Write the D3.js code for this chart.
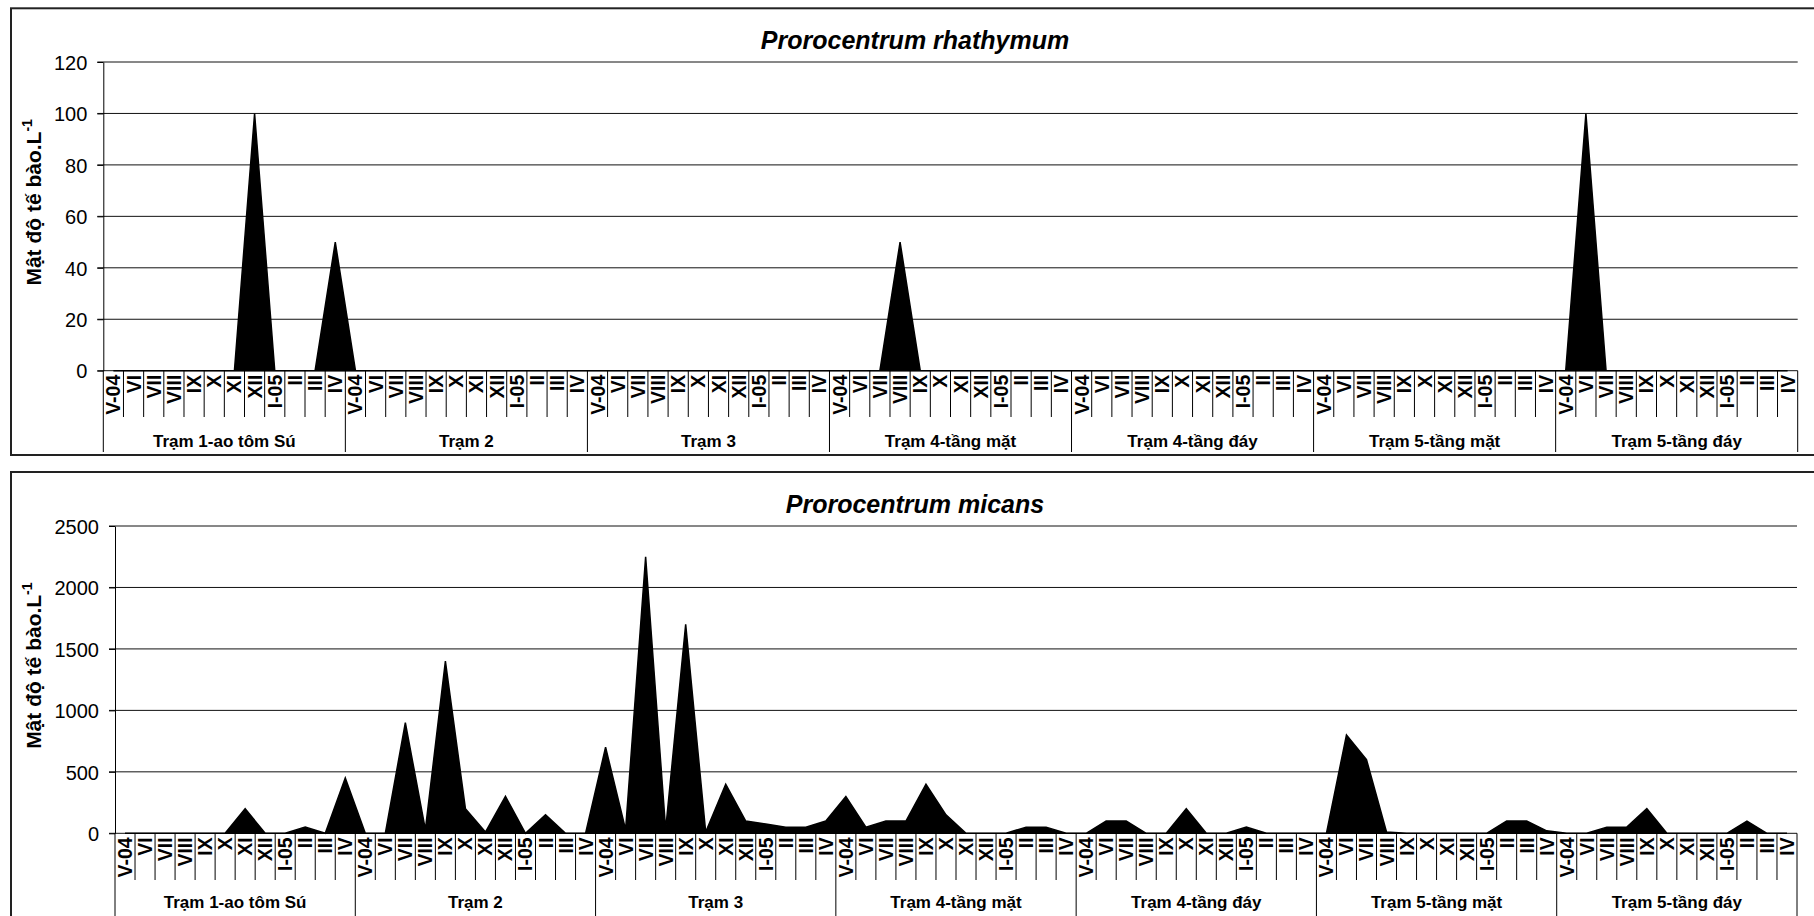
<!DOCTYPE html>
<html>
<head>
<meta charset="utf-8">
<script src="https://cdn.jsdelivr.net/npm/d3@7"></script>
<style>
body { margin: 0; background: #fff; }
svg { display: block; font-family: "Liberation Sans", Arial, sans-serif; }
</style>
</head>
<body>
<svg id="chart" width="1814" height="916"></svg>
<script>
var months = ['V-04', 'VI', 'VII', 'VIII', 'IX', 'X', 'XI', 'XII', 'I-05', 'II', 'III', 'IV'];
var stations = ['Trạm 1-ao tôm Sú', 'Trạm 2', 'Trạm 3', 'Trạm 4-tầng mặt', 'Trạm 4-tầng đáy', 'Trạm 5-tầng mặt', 'Trạm 5-tầng đáy'];

// Prorocentrum rhathymum, 12 months per station
var rhathymum = [
	0, 0, 0, 0, 0, 0, 0, 100, 0, 0, 0, 50,
	0, 0, 0, 0, 0, 0, 0, 0, 0, 0, 0, 0,
	0, 0, 0, 0, 0, 0, 0, 0, 0, 0, 0, 0,
	0, 0, 0, 50, 0, 0, 0, 0, 0, 0, 0, 0,
	0, 0, 0, 0, 0, 0, 0, 0, 0, 0, 0, 0,
	0, 0, 0, 0, 0, 0, 0, 0, 0, 0, 0, 0,
	0, 100, 0, 0, 0, 0, 0, 0, 0, 0, 0, 0
];

// Prorocentrum micans
var micans = [
	0, 0, 0, 0, 0, 0, 200, 0, 0, 50, 0, 450,
	0, 0, 900, 30, 1400, 200, 10, 300, 0, 150, 0, 0,
	700, 30, 2250, 30, 1700, 10, 400, 100, 75, 50, 50, 100,
	300, 50, 100, 100, 400, 150, 0, 0, 0, 50, 50, 0,
	0, 100, 100, 0, 0, 200, 0, 0, 50, 0, 0, 0,
	0, 800, 600, 10, 0, 0, 0, 0, 0, 100, 100, 20,
	0, 0, 50, 50, 200, 0, 0, 0, 0, 100, 0, 0
];

var ticksRhathymum = [0, 20, 40, 60, 80, 100, 120];
var ticksMicans = [0, 500, 1000, 1500, 2000, 2500];

function drawPanel(o){
	var svg = d3.select('#chart');
	var g = svg.append('g');

	g.append('rect')
		.attr('x', o.box[0]).attr('y', o.box[1])
		.attr('width', o.box[2]).attr('height', o.box[3])
		.attr('fill', '#fff').attr('stroke', '#222').attr('stroke-width', 2);

	var cats = d3.range(stations.length * months.length);
	var x = d3.scaleBand().domain(cats).range([o.left, o.right]).padding(0);
	var bw = x.bandwidth();
	var y = d3.scaleLinear().domain([0, d3.max(o.ticks)]).range([o.bottom, o.top]);

	// grid lines
	g.selectAll('line.grid').data(o.ticks).enter().append('line')
		.attr('class', 'grid')
		.attr('x1', o.left - 6).attr('x2', o.right)
		.attr('y1', function(d){ return y(d); })
		.attr('y2', function(d){ return y(d); })
		.attr('stroke', '#111').attr('stroke-width', 1);

	// filled series
	var area = d3.area()
		.x(function(d, i){ return x(i) + bw / 2; })
		.y0(y(0))
		.y1(function(d){ return y(d); });
	g.append('path').datum(o.values)
		.attr('d', area)
		.attr('fill', '#000').attr('stroke', '#000').attr('stroke-width', 1.5)
		.attr('stroke-linejoin', 'miter');

	// y axis
	var ax = g.append('g')
		.attr('transform', 'translate(' + o.left + ',0)')
		.call(d3.axisLeft(y).tickValues(o.ticks).tickSize(6).tickSizeOuter(0).tickPadding(10).tickFormat(d3.format('d')));
	ax.select('.domain').attr('stroke', '#000');
	ax.selectAll('.tick line').attr('stroke', '#000');
	ax.selectAll('.tick text').attr('fill', '#000').style('font-size', '20px').attr('dy', '0.36em');

	// category separators
	var bounds = d3.range(cats.length + 1);
	g.selectAll('line.sep').data(bounds).enter().append('line')
		.attr('class', 'sep')
		.attr('x1', function(d){ return o.left + d * bw; })
		.attr('x2', function(d){ return o.left + d * bw; })
		.attr('y1', o.bottom)
		.attr('y2', function(d){ return d % months.length == 0 ? o.groupLineBottom : o.catLineBottom; })
		.attr('stroke', '#000').attr('stroke-width', 1);

	// category labels
	g.selectAll('text.cat').data(cats).enter().append('text')
		.attr('class', 'cat')
		.attr('transform', function(d){ return 'translate(' + (x(d) + bw / 2 + 7) + ',' + (o.bottom + 4) + ') rotate(-90)'; })
		.attr('text-anchor', 'end')
		.style('font-size', '19.5px').style('font-weight', 'bold')
		.text(function(d){ return months[d % months.length]; });

	// station labels
	g.selectAll('text.grp').data(stations).enter().append('text')
		.attr('class', 'grp')
		.attr('x', function(d, i){ return o.left + (i + 0.5) * months.length * bw; })
		.attr('y', o.groupLabelY)
		.attr('text-anchor', 'middle')
		.style('font-size', '17px').style('font-weight', 'bold')
		.text(function(d){ return d; });

	// title
	g.append('text')
		.attr('x', o.box[0] + o.box[2] / 2).attr('y', o.titleY)
		.attr('text-anchor', 'middle')
		.style('font-size', '25px').style('font-weight', 'bold').style('font-style', 'italic')
		.text(o.title);

	// y axis title
	var yt = g.append('text')
		.attr('transform', 'translate(41,' + ((o.top + o.bottom) / 2 - 14) + ') rotate(-90)')
		.attr('text-anchor', 'middle')
		.style('font-size', '21px').style('font-weight', 'bold');
	yt.append('tspan').text('Mật độ tế bào.L');
	yt.append('tspan').attr('dy', -9).style('font-size', '14px').text('-1');
}

drawPanel({
	box: [11, 8.3, 1808, 446.7],
	left: 103.3, right: 1797.7, top: 62, bottom: 370.7,
	catLineBottom: 417, groupLineBottom: 452, groupLabelY: 447, titleY: 49,
	ticks: ticksRhathymum, values: rhathymum, title: 'Prorocentrum rhathymum'
});

drawPanel({
	box: [11, 472, 1808, 460],
	left: 115, right: 1797, top: 526, bottom: 833.3,
	catLineBottom: 880, groupLineBottom: 918, groupLabelY: 908, titleY: 513,
	ticks: ticksMicans, values: micans, title: 'Prorocentrum micans'
});
</script>
</body>
</html>
